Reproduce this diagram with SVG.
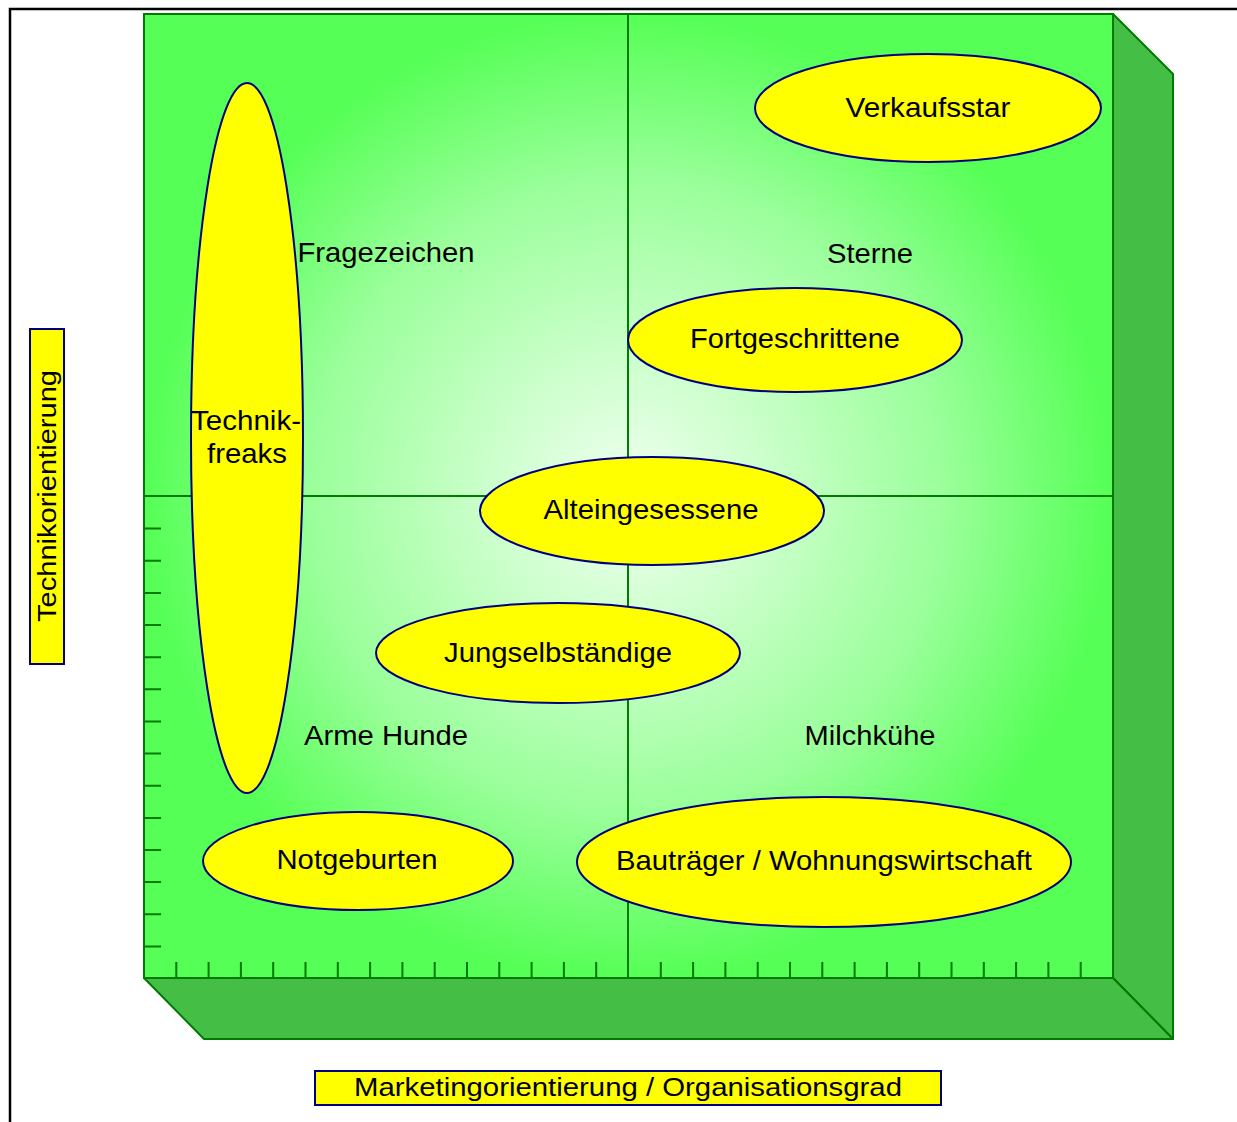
<svg xmlns="http://www.w3.org/2000/svg" width="1237" height="1122" viewBox="0 0 1237 1122">
<style>
.side{fill:#44BE44;stroke:#007A00;stroke-width:2;stroke-linejoin:round}
.face{stroke:#007A00;stroke-width:2}
.grid{stroke:#007A00;stroke-width:2;fill:none}
.tick{stroke:#007A00;stroke-width:2}
.node{fill:#FFFF00;stroke:#000080;stroke-width:2}
.lbl{font-family:"Liberation Sans",Arial,sans-serif;font-size:28px;fill:#000;text-anchor:middle}
.ax{font-family:"Liberation Sans",Arial,sans-serif;font-size:25px;fill:#000;text-anchor:middle}
.axbox{fill:#FFFF00;stroke:#000080;stroke-width:2}
</style>
<defs>
<radialGradient id="g" gradientUnits="userSpaceOnUse" cx="628" cy="496" r="484">
<stop offset="0" stop-color="#F2FFF2"/>
<stop offset="0.13" stop-color="#E0FFE0"/>
<stop offset="0.3" stop-color="#CAFFCA"/>
<stop offset="0.66" stop-color="#99FF99"/>
<stop offset="1" stop-color="#55FF55"/>
</radialGradient>
</defs>
<rect width="1237" height="1122" fill="#FFFFFF"/>
<path d="M10,1122 V9 H1237" fill="none" stroke="#000" stroke-width="2.5"/>
<g id="cube">
<polygon class="side" points="1113,14 1173,74 1173,1039 1113,978"/>
<polygon class="side" points="144,978 1113,978 1173,1039 204,1039"/>
<rect class="face" x="144" y="14" width="969" height="964" fill="url(#g)"/>
</g>
<g id="connectors">
<line class="grid" x1="628" y1="14" x2="628" y2="978"/>
<line class="grid" x1="144" y1="496" x2="1113" y2="496"/>
<g id="ticks">
<path class="tick" d="M144,528.6h17M144,560.8h17M144,592.9h17M144,625h17M144,657.2h17M144,689.3h17M144,721.4h17M144,753.6h17M144,785.7h17M144,817.9h17M144,850h17M144,882.1h17M144,914.3h17M144,946.4h17"/>
<path class="tick" d="M176.3,978v-16M208.6,978v-16M240.9,978v-16M273.2,978v-16M305.5,978v-16M337.8,978v-16M370.1,978v-16M402.4,978v-16M434.7,978v-16M467,978v-16M499.3,978v-16M531.6,978v-16M563.9,978v-16M596.2,978v-16M660.8,978v-16M693.1,978v-16M725.4,978v-16M757.7,978v-16M790,978v-16M822.3,978v-16M854.6,978v-16M886.9,978v-16M919.2,978v-16M951.5,978v-16M983.8,978v-16M1016.1,978v-16M1048.4,978v-16M1080.7,978v-16"/>
</g>
</g>
<g id="quadrants">
<text class="lbl" x="386" y="262" textLength="177" lengthAdjust="spacingAndGlyphs">Fragezeichen</text>
<text class="lbl" x="870" y="263" textLength="86" lengthAdjust="spacingAndGlyphs">Sterne</text>
<text class="lbl" x="386" y="745" textLength="164" lengthAdjust="spacingAndGlyphs">Arme Hunde</text>
<text class="lbl" x="870" y="745" textLength="131" lengthAdjust="spacingAndGlyphs">Milchkühe</text>
</g>
<g id="technikfreaks">
<ellipse class="node" cx="247" cy="438" rx="56" ry="355"/>
<text class="lbl" x="246" y="430" textLength="110" lengthAdjust="spacingAndGlyphs">Technik-</text>
<text class="lbl" x="247" y="463" textLength="80" lengthAdjust="spacingAndGlyphs">freaks</text>
</g>
<g id="verkaufsstar">
<ellipse class="node" cx="928" cy="108" rx="173" ry="54"/>
<text class="lbl" x="928" y="117" textLength="165" lengthAdjust="spacingAndGlyphs">Verkaufsstar</text>
</g>
<g id="fortgeschrittene">
<ellipse class="node" cx="795" cy="340" rx="167" ry="52"/>
<text class="lbl" x="795" y="348" textLength="210" lengthAdjust="spacingAndGlyphs">Fortgeschrittene</text>
</g>
<g id="alteingesessene">
<ellipse class="node" cx="652" cy="511" rx="172" ry="54"/>
<text class="lbl" x="651" y="519" textLength="215" lengthAdjust="spacingAndGlyphs">Alteingesessene</text>
</g>
<g id="jungselbstaendige">
<ellipse class="node" cx="558" cy="653" rx="182" ry="50"/>
<text class="lbl" x="558" y="662" textLength="228" lengthAdjust="spacingAndGlyphs">Jungselbständige</text>
</g>
<g id="notgeburten">
<ellipse class="node" cx="358" cy="861" rx="155" ry="49"/>
<text class="lbl" x="357" y="869" textLength="161" lengthAdjust="spacingAndGlyphs">Notgeburten</text>
</g>
<g id="bautraeger">
<ellipse class="node" cx="824" cy="862" rx="247" ry="65"/>
<text class="lbl" x="824" y="870" textLength="416" lengthAdjust="spacingAndGlyphs">Bauträger / Wohnungswirtschaft</text>
</g>
<g id="xaxis">
<rect class="axbox" x="315" y="1071" width="626" height="34"/>
<text class="ax" x="628" y="1096" textLength="548" lengthAdjust="spacingAndGlyphs">Marketingorientierung / Organisationsgrad</text>
</g>
<g id="yaxis">
<rect class="axbox" x="30" y="329" width="34" height="335"/>
<text class="ax" transform="translate(56,496) rotate(-90)" x="0" y="0" textLength="252" lengthAdjust="spacingAndGlyphs">Technikorientierung</text>
</g>
</svg>
